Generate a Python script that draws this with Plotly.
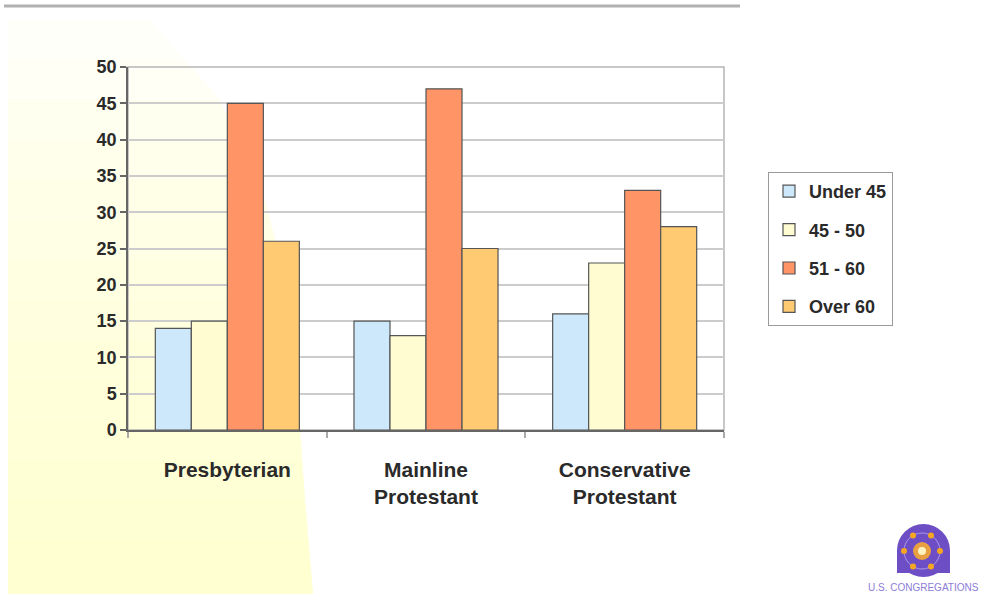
import numpy as np
import plotly.graph_objects as go

categories = ["Presbyterian", "Mainline<br>Protestant", "Conservative<br>Protestant"]
series_names = ["Under 45", "45 - 50", "51 - 60", "Over 60"]
under_45 = [14, 15, 16]
age_45_50 = [15, 13, 23]
age_51_60 = [45, 47, 33]
over_60 = [26, 25, 28]
y_ticks = [0, 5, 10, 15, 20, 25, 30, 35, 40, 45, 50]

series_values = [under_45, age_45_50, age_51_60, over_60]
colors = ["#CCE8FA", "#FFFCD2", "#FF9466", "#FFCA72"]

W, H = 995, 594
L, R, T, B = 128, 724, 67, 430


def px(x):
    return (x - L) / (R - L)


def py(y):
    return (B - y) / (B - T)


fig = go.Figure()
for name, vals, col in zip(series_names, series_values, colors):
    fig.add_trace(go.Bar(
        x=categories, y=vals, name=name, legendgroup=name,
        marker=dict(color=col, line=dict(color="#555555", width=1.2)),
    ))

shapes = []
# soft yellow background glow (bottom-left)
edge_y = [20, 100, 200, 300, 430, 500, 594]
edge_x = [150, 220, 265, 290, 300, 305, 313]
for yk in np.linspace(20, 540, 14):
    ys = [y for y in edge_y if y > yk]
    pts = [(8, yk), (float(np.interp(yk, edge_y, edge_x)), yk)]
    pts += [(edge_x[edge_y.index(y)], y) for y in ys]
    pts += [(8, 594)]
    path = "M " + " L ".join(f"{px(a):.5f},{py(b):.5f}" for a, b in pts) + " Z"
    shapes.append(dict(type="path", path=path, xref="paper", yref="paper",
                       fillcolor="rgba(255,250,200,0.085)", line=dict(width=0), layer="below"))

# plot box (light)
shapes.append(dict(type="rect", xref="paper", yref="paper", x0=0, x1=1, y0=0, y1=1,
                   line=dict(color="#b5b5b5", width=1.5), layer="below"))
# top grey rule
shapes.append(dict(type="line", xref="paper", yref="paper", x0=px(4), x1=px(740), y0=py(6), y1=py(6),
                   line=dict(color="#b0b0b0", width=3)))

# logo
purple = "#6E4EC4"
shapes.append(dict(type="circle", xref="paper", yref="paper", x0=px(897), x1=px(950),
                   y0=py(524), y1=py(577), fillcolor=purple, line=dict(width=0)))
shapes.append(dict(type="rect", xref="paper", yref="paper", x0=px(897), x1=px(950),
                   y0=py(550), y1=py(573), fillcolor=purple, line=dict(width=0)))
cx, cy, rr = 922, 551, 18
shapes.append(dict(type="circle", xref="paper", yref="paper", x0=px(cx - rr), x1=px(cx + rr),
                   y0=py(cy - rr), y1=py(cy + rr), line=dict(color="#A898E8", width=1)))
shapes.append(dict(type="circle", xref="paper", yref="paper", x0=px(cx - 9), x1=px(cx + 9),
                   y0=py(cy - 9), y1=py(cy + 9), fillcolor="#E8A040", line=dict(width=0)))
shapes.append(dict(type="circle", xref="paper", yref="paper", x0=px(cx - 4), x1=px(cx + 4),
                   y0=py(cy - 4), y1=py(cy + 4), fillcolor="#FFF3C0", line=dict(width=0)))
for ang in range(0, 360, 60):
    dx = cx + rr * np.cos(np.radians(ang))
    dy = cy + rr * np.sin(np.radians(ang))
    shapes.append(dict(type="circle", xref="paper", yref="paper", x0=px(dx - 3), x1=px(dx + 3),
                       y0=py(dy - 3), y1=py(dy + 3), fillcolor="#F5A623", line=dict(width=0)))

annotations = [dict(text="U.S. CONGREGATIONS", xref="paper", yref="paper", x=px(923), y=py(587),
                    showarrow=False, xanchor="center", yanchor="middle",
                    font=dict(family="Liberation Sans Narrow, Liberation Sans, Arial", size=10, color="#8C7CD8"))]

font_main = "Liberation Sans, Arial, sans-serif"

fig.update_layout(
    width=W, height=H,
    margin=dict(l=L, r=W - R, t=T, b=H - B, pad=0),
    paper_bgcolor="white",
    plot_bgcolor="rgba(0,0,0,0)",
    barmode="group",
    bargap=0.275,
    bargroupgap=0,
    shapes=shapes,
    annotations=annotations,
    showlegend=True,
    legend=dict(
        x=px(768), y=py(172), xanchor="left", yanchor="top",
        bordercolor="#9a9a9a", borderwidth=1, bgcolor="white",
        font=dict(family=font_main, size=18, color="#2a2a2a", weight="bold"),
        tracegroupgap=12, itemwidth=30,
    ),
    font=dict(family=font_main, color="#2a2a2a"),
)

fig.update_xaxes(
    showline=True, linecolor="#666666", linewidth=1.5,
    ticks="outside", tickson="boundaries", ticklen=6, tickcolor="#aaaaaa", tickwidth=1.5,
    tickfont=dict(family=font_main, size=21, color="#2a2a2a", weight="bold"),
    ticklabelstandoff=20,
    showgrid=False,
)
fig.update_yaxes(
    range=[0, 50], tickvals=y_ticks,
    showline=True, linecolor="#666666", linewidth=1.5,
    ticks="outside", ticklen=6, tickcolor="#666666", tickwidth=1.5,
    showgrid=True, gridcolor="#cccccc", gridwidth=1.5,
    zeroline=False,
    tickfont=dict(family=font_main, size=18, color="#2a2a2a", weight="bold"),
)

fig.write_html("out.html")
